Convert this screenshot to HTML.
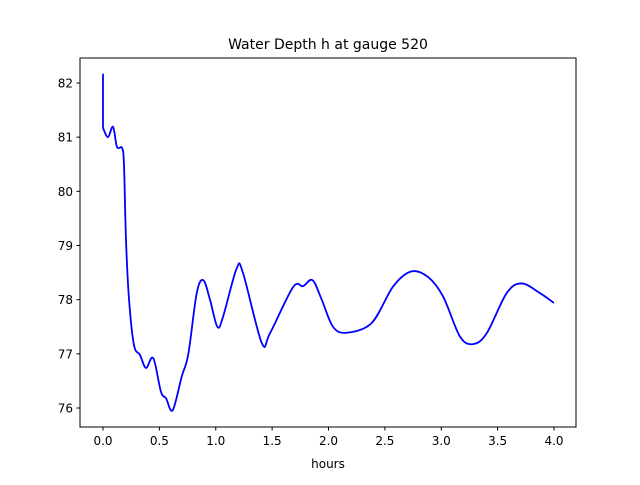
<!DOCTYPE html>
<html><head><meta charset="utf-8"><style>
body{margin:0;background:#fff}
svg text{font-family:"DejaVu Sans","Liberation Sans",sans-serif;fill:#000}
</style></head><body>
<svg width="640" height="480" viewBox="0 0 640 480">
<rect width="640" height="480" fill="#fff"/>
<text x="328" y="49" font-size="14" text-anchor="middle">Water Depth h at gauge 520</text>
<g id="xt"></g><g id="yt"></g>
<path id="line" fill="none" stroke="#0000ff" stroke-width="1.8" stroke-linejoin="round"/>
<rect x="80" y="58" width="496" height="369" fill="none" stroke="#000" stroke-width="1"/>
<text x="328" y="468" font-size="12" text-anchor="middle">hours</text>
</svg>
<script>
const xTicks=[0,0.5,1,1.5,2,2.5,3,3.5,4];
const xTickLabels=["0.0","0.5","1.0","1.5","2.0","2.5","3.0","3.5","4.0"];
const yTicks=[76,77,78,79,80,81,82];
const hours=[0,0,0.044,0.089,0.124,0.169,0.186,0.204,0.231,0.275,0.328,0.381,0.446,0.514,0.559,0.618,0.698,0.757,0.831,0.890,0.949,1.014,1.064,1.186,1.242,1.408,1.481,1.685,1.774,1.858,1.940,2.040,2.161,2.383,2.572,2.732,2.882,3.016,3.166,3.282,3.403,3.580,3.713,3.876,4.0];
const depth=[82.17,81.17,81.0,81.19,80.82,80.8,80.49,79.1,78.0,77.16,76.98,76.74,76.92,76.3,76.18,75.96,76.58,77.0,78.12,78.36,78.0,77.5,77.68,78.58,78.49,77.2,77.38,78.23,78.25,78.36,78.0,77.5,77.39,77.57,78.24,78.52,78.42,78.06,77.32,77.18,77.38,78.12,78.3,78.12,77.94];
const X=v=>103+v*112.75, Y=v=>83+(82-v)*54.17;
const ns="http://www.w3.org/2000/svg";
const xt=document.getElementById('xt'), yt=document.getElementById('yt');
xTicks.forEach((t,i)=>{
 const l=document.createElementNS(ns,'line');
 
 
 l.setAttribute('x1',X(t));l.setAttribute('x2',X(t));l.setAttribute('y1',427);l.setAttribute('y2',430.5);l.setAttribute('stroke','#000');xt.appendChild(l);
 const tx=document.createElementNS(ns,'text');
 
 
 tx.setAttribute('x',X(t));tx.setAttribute('y',445);tx.setAttribute('font-size','12');tx.setAttribute('text-anchor','middle');tx.textContent=xTickLabels[i];xt.appendChild(tx);
});
yTicks.forEach(t=>{
 const l=document.createElementNS(ns,'line');
 
 
 l.setAttribute('x1',76.5);l.setAttribute('x2',80);l.setAttribute('y1',Y(t));l.setAttribute('y2',Y(t));l.setAttribute('stroke','#000');yt.appendChild(l);
 const tx=document.createElementNS(ns,'text');
 
 
 tx.setAttribute('x',73);tx.setAttribute('y',Y(t)+4.5);tx.setAttribute('font-size','12');tx.setAttribute('text-anchor','end');tx.textContent=t;yt.appendChild(tx);
});
const P=hours.map((h,i)=>[X(h),Y(depth[i])]);
let d=`M${P[0][0]},${P[0][1]}L${P[1][0]},${P[1][1]}`;
for(let i=1;i<P.length-1;i++){
 const p0=P[Math.max(1,i-1)],p1=P[i],p2=P[i+1],p3=P[Math.min(P.length-1,i+2)];
 const c1=[p1[0]+(p2[0]-p0[0])/6,p1[1]+(p2[1]-p0[1])/6],c2=[p2[0]-(p3[0]-p1[0])/6,p2[1]-(p3[1]-p1[1])/6];
 d+=`C${c1[0]},${c1[1]} ${c2[0]},${c2[1]} ${p2[0]},${p2[1]}`;
}
document.getElementById('line').setAttribute('d',d);
</script>
</body></html>
